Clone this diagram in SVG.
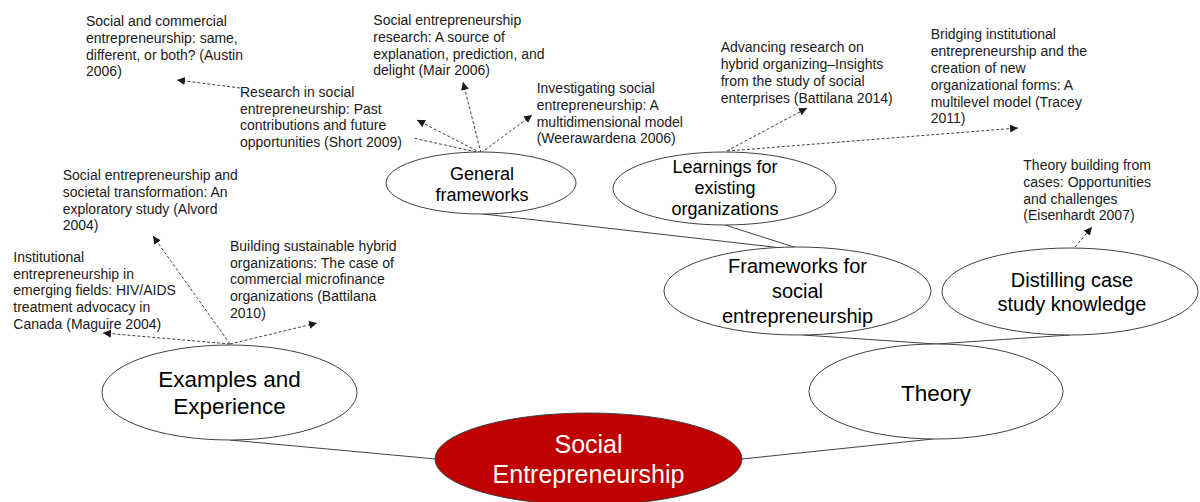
<svg xmlns="http://www.w3.org/2000/svg" width="1200" height="502" viewBox="0 0 1200 502">
<style>
  .ref { font-family: "Liberation Sans", Arial, sans-serif; font-size: 14px; fill: #1a1a1a; }
  .node { fill: #ffffff; stroke: #404040; stroke-width: 1; }
  .root { fill: #c00000; stroke: #404040; stroke-width: 1; }
  .lbl { font-family: "Liberation Sans", Arial, sans-serif; fill: #000000; text-anchor: middle; }
  .rootlbl { font-family: "Liberation Sans", Arial, sans-serif; fill: #ffffff; text-anchor: middle; font-size: 25px; }
  .edge { stroke: #404040; stroke-width: 1; fill: none; }
  .dash { stroke: #404040; stroke-width: 1; fill: none; stroke-dasharray: 3 2; }
  .arrow { marker-end: url(#ah); }
</style>
<defs>
  <marker id="ah" markerUnits="userSpaceOnUse" markerWidth="10" markerHeight="10" refX="8" refY="4" orient="auto">
    <path d="M0,0 L8,4 L0,8 Z" fill="#1a1a1a"/>
  </marker>
</defs>
<rect width="1200" height="502" fill="#ffffff"/>

<g id="connectors">
  <line class="edge" x1="230" y1="440" x2="436" y2="459"/>
  <line class="edge" x1="742" y1="459" x2="933" y2="439"/>
  <line class="edge" x1="936" y1="344" x2="803" y2="335"/>
  <line class="edge" x1="936" y1="344" x2="1070" y2="335"/>
  <line class="edge" x1="483" y1="214" x2="782" y2="248"/>
  <line class="edge" x1="725" y1="225" x2="797" y2="248"/>
  <line class="dash arrow" x1="230" y1="344" x2="153" y2="236"/>
  <line class="dash arrow" x1="230" y1="344" x2="103" y2="333"/>
  <line class="dash arrow" x1="230" y1="344" x2="317" y2="323"/>
  <line class="dash arrow" x1="481" y1="153" x2="417" y2="120"/>
  <line class="dash" x1="481" y1="153" x2="413" y2="138"/>
  <line class="dash arrow" x1="240" y1="88" x2="177" y2="80"/>
  <line class="dash arrow" x1="481" y1="153" x2="463" y2="82"/>
  <line class="dash arrow" x1="481" y1="153" x2="532" y2="115"/>
  <line class="dash arrow" x1="727" y1="151" x2="807" y2="108"/>
  <line class="dash arrow" x1="727" y1="151" x2="1018" y2="128"/>
  <line class="dash arrow" x1="1075" y1="247" x2="1092" y2="227"/>
</g>

<g id="n-social-entrepreneurship">
  <ellipse class="root" cx="588.5" cy="459" rx="153.5" ry="46"/>
  <text class="rootlbl" x="588.5" y="453">Social</text>
  <text class="rootlbl" x="588.5" y="483">Entrepreneurship</text>
</g>

<g id="n-examples">
  <ellipse class="node" cx="229.5" cy="392.5" rx="127.5" ry="47.5"/>
  <text class="lbl" x="229.5" y="387" font-size="22.5">Examples and</text>
  <text class="lbl" x="229.5" y="414" font-size="22.5">Experience</text>
</g>

<g id="n-theory">
  <ellipse class="node" cx="936" cy="391.5" rx="127" ry="47.5"/>
  <text class="lbl" x="936" y="401" font-size="22.5">Theory</text>
</g>

<g id="n-frameworks-se">
  <ellipse class="node" cx="797.5" cy="291" rx="133.5" ry="44"/>
  <text class="lbl" x="797.5" y="273" font-size="20">Frameworks for</text>
  <text class="lbl" x="797.5" y="298" font-size="20">social</text>
  <text class="lbl" x="797.5" y="323" font-size="20">entrepreneurship</text>
</g>

<g id="n-distilling">
  <ellipse class="node" cx="1070" cy="291.5" rx="128" ry="43.5"/>
  <text class="lbl" x="1072" y="287" font-size="20">Distilling case</text>
  <text class="lbl" x="1072" y="311" font-size="20">study knowledge</text>
</g>

<g id="n-general-frameworks">
  <ellipse class="node" cx="481" cy="183" rx="95" ry="31"/>
  <text class="lbl" x="482" y="180" font-size="18">General</text>
  <text class="lbl" x="482" y="201" font-size="18">frameworks</text>
</g>

<g id="n-learnings">
  <ellipse class="node" cx="724.5" cy="188.5" rx="111.5" ry="36.5"/>
  <text class="lbl" x="725" y="173" font-size="18">Learnings for</text>
  <text class="lbl" x="725" y="194" font-size="18">existing</text>
  <text class="lbl" x="725" y="215" font-size="18">organizations</text>
</g>

<g id="r-austin">
  <text class="ref" x="86" y="26">Social and commercial</text>
  <text class="ref" x="86" y="42.8">entrepreneurship: same,</text>
  <text class="ref" x="86" y="59.6">different, or both? (Austin</text>
  <text class="ref" x="86" y="76.4">2006)</text>
</g>

<g id="r-short">
  <text class="ref" x="240" y="96.7">Research in social</text>
  <text class="ref" x="240" y="113.5">entrepreneurship: Past</text>
  <text class="ref" x="240" y="130.3">contributions and future</text>
  <text class="ref" x="240" y="147.1">opportunities (Short 2009)</text>
</g>

<g id="r-mair">
  <text class="ref" x="373.3" y="25">Social entrepreneurship</text>
  <text class="ref" x="373.3" y="41.8">research: A source of</text>
  <text class="ref" x="373.3" y="58.6">explanation, prediction, and</text>
  <text class="ref" x="373.3" y="75.4">delight (Mair 2006)</text>
</g>

<g id="r-weerawardena">
  <text class="ref" x="536.7" y="93">Investigating social</text>
  <text class="ref" x="536.7" y="109.8">entrepreneurship: A</text>
  <text class="ref" x="536.7" y="126.6">multidimensional model</text>
  <text class="ref" x="536.7" y="143.4">(Weerawardena 2006)</text>
</g>

<g id="r-battilana2014">
  <text class="ref" x="720.7" y="52.3">Advancing research on</text>
  <text class="ref" x="720.7" y="69.1">hybrid organizing–Insights</text>
  <text class="ref" x="720.7" y="85.9">from the study of social</text>
  <text class="ref" x="720.7" y="102.7">enterprises (Battilana 2014)</text>
</g>

<g id="r-tracey">
  <text class="ref" x="930.7" y="39.3">Bridging institutional</text>
  <text class="ref" x="930.7" y="56.1">entrepreneurship and the</text>
  <text class="ref" x="930.7" y="72.9">creation of new</text>
  <text class="ref" x="930.7" y="89.7">organizational forms: A</text>
  <text class="ref" x="930.7" y="106.5">multilevel model (Tracey</text>
  <text class="ref" x="930.7" y="123.3">2011)</text>
</g>

<g id="r-eisenhardt">
  <text class="ref" x="1023.3" y="170">Theory building from</text>
  <text class="ref" x="1023.3" y="186.8">cases: Opportunities</text>
  <text class="ref" x="1023.3" y="203.6">and challenges</text>
  <text class="ref" x="1023.3" y="220.4">(Eisenhardt 2007)</text>
</g>

<g id="r-alvord">
  <text class="ref" x="62.7" y="180">Social entrepreneurship and</text>
  <text class="ref" x="62.7" y="196.8">societal transformation: An</text>
  <text class="ref" x="62.7" y="213.6">exploratory study (Alvord</text>
  <text class="ref" x="62.7" y="230.4">2004)</text>
</g>

<g id="r-maguire">
  <text class="ref" x="13.3" y="261.7">Institutional</text>
  <text class="ref" x="13.3" y="278.5">entrepreneurship in</text>
  <text class="ref" x="13.3" y="295.3">emerging fields: HIV/AIDS</text>
  <text class="ref" x="13.3" y="312.1">treatment advocacy in</text>
  <text class="ref" x="13.3" y="328.9">Canada (Maguire 2004)</text>
</g>

<g id="r-battilana2010">
  <text class="ref" x="230" y="250.7">Building sustainable hybrid</text>
  <text class="ref" x="230" y="267.5">organizations: The case of</text>
  <text class="ref" x="230" y="284.3">commercial microfinance</text>
  <text class="ref" x="230" y="301.1">organizations (Battilana</text>
  <text class="ref" x="230" y="317.9">2010)</text>
</g>
</svg>
